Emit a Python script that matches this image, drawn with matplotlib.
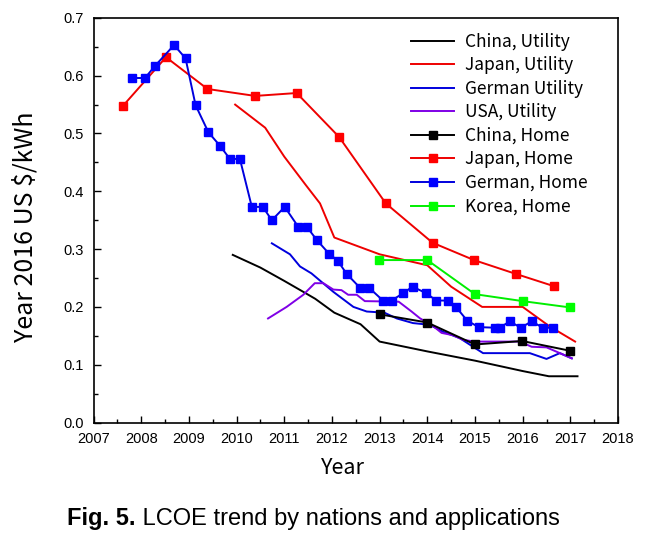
import matplotlib
matplotlib.use("Agg")
import matplotlib.pyplot as plt
from matplotlib.ticker import AutoMinorLocator, MultipleLocator

# ---- data ----
china_util_x = [2009.92, 2010.5, 2011.0, 2011.4, 2011.65, 2012.05, 2012.6, 2013.0, 2014.0, 2015.0, 2016.0, 2016.55, 2017.15]
china_util_y = [0.290, 0.268, 0.245, 0.226, 0.214, 0.190, 0.170, 0.140, 0.123, 0.107, 0.089, 0.080, 0.080]

japan_util_x = [2009.97, 2010.6, 2011.0, 2011.45, 2011.75, 2012.05, 2013.0, 2014.0, 2014.5, 2015.15, 2016.0, 2016.57, 2017.1]
japan_util_y = [0.550, 0.510, 0.460, 0.411, 0.379, 0.320, 0.291, 0.272, 0.235, 0.200, 0.200, 0.166, 0.140]

german_util_x = [2010.74, 2011.12, 2011.33, 2011.57, 2012.03, 2012.45, 2012.73, 2013.1, 2013.36, 2013.7, 2014.05, 2014.33, 2014.68,
                 2014.96, 2015.17, 2016.15, 2016.5, 2016.78, 2017.03]
german_util_y = [0.310, 0.291, 0.270, 0.258, 0.226, 0.200, 0.192, 0.190, 0.180, 0.172, 0.169, 0.157, 0.146,
                 0.131, 0.120, 0.120, 0.110, 0.120, 0.111]

usa_util_x = [2010.66, 2011.05, 2011.4, 2011.64, 2011.82, 2012.03, 2012.2, 2012.34, 2012.52, 2012.69, 2013.4, 2013.67, 2013.85,
              2014.09, 2014.3, 2014.54, 2014.75, 2015.0, 2015.94, 2016.19, 2016.5, 2016.78, 2017.03]
usa_util_y = [0.180, 0.200, 0.221, 0.241, 0.241, 0.230, 0.229, 0.221, 0.221, 0.210, 0.209, 0.192, 0.180,
              0.169, 0.155, 0.151, 0.143, 0.140, 0.140, 0.131, 0.130, 0.120, 0.111]

china_home_x = [2013.01, 2014.0, 2015.0, 2015.99, 2017.0]
china_home_y = [0.187, 0.173, 0.135, 0.141, 0.124]

japan_home_x = [2007.62, 2008.52, 2009.39, 2010.39, 2011.26, 2012.15, 2013.13, 2014.11, 2014.98, 2015.86, 2016.65]
japan_home_y = [0.548, 0.632, 0.577, 0.565, 0.570, 0.494, 0.379, 0.311, 0.281, 0.257, 0.236]

german_home_x = [2007.80, 2008.08, 2008.29, 2008.69, 2008.93, 2009.14, 2009.41, 2009.65, 2009.86, 2010.07,
                 2010.32, 2010.55, 2010.74, 2011.01, 2011.29, 2011.47, 2011.68, 2011.94, 2012.12, 2012.31,
                 2012.59, 2012.78, 2013.07, 2013.25, 2013.50, 2013.69, 2013.97, 2014.19, 2014.43, 2014.61,
                 2014.84, 2015.08, 2015.42, 2015.52, 2015.73, 2015.96, 2016.19, 2016.42, 2016.64]
german_home_y = [0.596, 0.596, 0.617, 0.653, 0.630, 0.549, 0.502, 0.479, 0.456, 0.456,
                 0.373, 0.373, 0.350, 0.373, 0.339, 0.339, 0.316, 0.292, 0.280, 0.257,
                 0.233, 0.233, 0.211, 0.211, 0.224, 0.235, 0.224, 0.211, 0.211, 0.199,
                 0.176, 0.165, 0.164, 0.164, 0.175, 0.164, 0.175, 0.164, 0.164]

korea_home_x = [2012.99, 2014.0, 2015.0, 2016.0, 2017.0]
korea_home_y = [0.281, 0.281, 0.222, 0.210, 0.199]

xticks = list(range(2007, 2019))
yticks = [0.0, 0.1, 0.2, 0.3, 0.4, 0.5, 0.6, 0.7]

kr_font = ['Noto Sans CJK KR', 'DejaVu Sans']
tick_font = 'Liberation Sans'

fig = plt.figure(figsize=(6.54, 5.34), dpi=100)
ax = fig.add_axes([0.143, 0.2088, 0.802, 0.7577])

lw = 1.4
ms = 6
ax.plot(china_util_x, china_util_y, color='black', lw=lw, label='China, Utility')
ax.plot(japan_util_x, japan_util_y, color='#ee0000', lw=lw, label='Japan, Utility')
ax.plot(german_util_x, german_util_y, color='#0000dd', lw=lw, label='German Utility')
ax.plot(usa_util_x, usa_util_y, color='#7f00e6', lw=lw, label='USA, Utility')
ax.plot(china_home_x, china_home_y, color='black', lw=lw, marker='s', ms=ms, label='China, Home')
ax.plot(japan_home_x, japan_home_y, color='#ee0000', mfc='#ff0000', mec='#ff0000', lw=lw, marker='s', ms=ms,
        label='Japan, Home')
ax.plot(german_home_x, german_home_y, color='#0000dd', mfc='#0000ff', mec='#0000ff', lw=lw, marker='s', ms=ms,
        label='German, Home')
ax.plot(korea_home_x, korea_home_y, color='#00ee00', mfc='#00ff00', mec='#00ff00', lw=lw, marker='s', ms=ms,
        label='Korea, Home')

ax.set_xlim(2007, 2018)
ax.set_ylim(0.0, 0.7)
ax.set_xticks(xticks)
ax.set_yticks(yticks)
ax.set_xticklabels([str(t) for t in xticks], family=tick_font, fontsize=10.5)
ax.set_yticklabels(['%.1f' % t for t in yticks], family=tick_font, fontsize=10.5)
ax.xaxis.set_minor_locator(AutoMinorLocator(2))
ax.yaxis.set_minor_locator(MultipleLocator(0.05))
ax.tick_params(which='both', direction='in', top=False, right=False, width=1.0)
ax.tick_params(which='major', length=5)
ax.tick_params(axis='x', which='major', pad=7)
ax.tick_params(axis='y', which='major', pad=7)
ax.tick_params(which='minor', length=3)
for s in ax.spines.values():
    s.set_linewidth(1.2)

ax.set_xlabel('Year', family=kr_font, fontsize=15.5)
ax.set_ylabel('Year 2016 US $/kWh', family=kr_font, fontsize=18)
ax.xaxis.set_label_coords(0.476, -0.085)
ax.yaxis.set_label_coords(-0.104, 0.483)

leg = ax.legend(loc='upper right', bbox_to_anchor=(0.948, 0.972), frameon=False,
                prop={'family': kr_font, 'size': 12.5}, handlelength=2.5,
                labelspacing=0.32, handletextpad=0.6, borderaxespad=0.0, borderpad=0.2)

# caption with bold "Fig. 5."
fig.canvas.draw()
r = fig.canvas.get_renderer()
t1 = fig.text(0, 0.029, 'Fig. 5.', family=tick_font, fontsize=17, weight='bold', va='center')
t2 = fig.text(0, 0.029, ' LCOE trend by nations and applications', family=tick_font, fontsize=17, va='center')
w1 = t1.get_window_extent(r).width
w2 = t2.get_window_extent(r).width
W = fig.bbox.width
x0 = 313.5 - (w1 + w2) / 2
t1.set_x(x0 / W)
t2.set_x((x0 + w1) / W)

fig.savefig('out.png', dpi=100)
